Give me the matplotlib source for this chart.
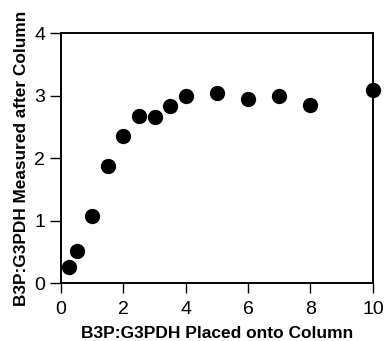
import numpy as np
import matplotlib.pyplot as plt

plt.rcParams['font.family'] = ['Liberation Sans', 'DejaVu Sans']

# ratio placed onto column vs. ratio measured after column
placed = [0.25, 0.5, 1.0, 1.5, 2.0, 2.5, 3.0, 3.5, 4.0, 5.0, 6.0, 7.0, 8.0, 10.0]
measured = [0.25, 0.52, 1.08, 1.88, 2.35, 2.67, 2.65, 2.83, 2.99, 3.04, 2.95, 2.99, 2.85, 3.09]

x_ticks = [0, 2, 4, 6, 8, 10]
y_ticks = [0, 1, 2, 3, 4]

fig = plt.figure(figsize=(3.86, 3.41), dpi=100)
ax = fig.add_axes([0.158, 0.170, 0.808, 0.733])

ax.plot(placed, measured, 'o', color='black', markersize=10, clip_on=False, zorder=3)

ax.set_xlim(0, 10)
ax.set_ylim(0, 4)
ax.set_xticks(x_ticks)
ax.set_yticks(y_ticks)

for s in ax.spines.values():
    s.set_linewidth(1.4)

ax.tick_params(axis='both', direction='out', width=1.0, labelsize=14)
ax.tick_params(axis='x', length=7, pad=6)
ax.tick_params(axis='y', length=8, pad=3.5)

ax.set_xlabel('B3P:G3PDH Placed onto Column', fontsize=12.5, fontweight='bold', labelpad=6)
ax.set_ylabel('B3P:G3PDH Measured after Column', fontsize=12.4, fontweight='bold', labelpad=3.5)

fig.savefig('out.png', dpi=100)
